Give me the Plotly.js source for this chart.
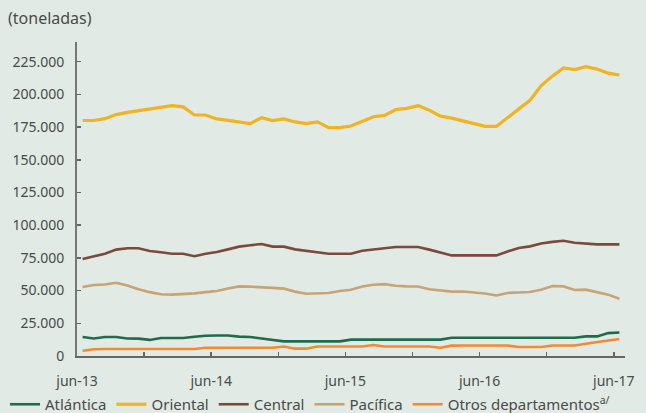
<!DOCTYPE html>
<html>
<head>
<meta charset="utf-8">
<script src="https://cdn.plot.ly/plotly-3.0.1.min.js"></script>
<style>html,body{margin:0;padding:0;background:#e1eae5;}#chart{width:646px;height:413px;}</style>
</head>
<body>
<div id="chart"></div>
<script>
// Monthly months: jun-13 ... jun-17 (49 months)
const months = ["jun-13","jul-13","ago-13","sep-13","oct-13","nov-13","dic-13","ene-14","feb-14","mar-14","abr-14","may-14",
"jun-14","jul-14","ago-14","sep-14","oct-14","nov-14","dic-14","ene-15","feb-15","mar-15","abr-15","may-15",
"jun-15","jul-15","ago-15","sep-15","oct-15","nov-15","dic-15","ene-16","feb-16","mar-16","abr-16","may-16",
"jun-16","jul-16","ago-16","sep-16","oct-16","nov-16","dic-16","ene-17","feb-17","mar-17","abr-17","may-17","jun-17"];

const atlantica = [14500,13400,14500,14500,13400,13300,12300,13800,13800,13800,14700,15500,
15700,15700,14800,14500,13400,12200,11200,11200,11200,11200,11200,11200,
12500,12500,12500,12500,12500,12500,12500,12500,12500,14000,14000,14000,
14000,14000,14000,14000,14000,14000,14000,14000,14000,15000,15000,17500,18000];

const oriental = [180000,180000,181400,184500,186200,187500,189300,190400,191400,190400,184200,184200,
181200,180100,178700,177600,182200,179900,181200,178900,177600,178900,174600,174600,
175800,179100,182900,183900,188300,189300,191400,187900,183300,181800,179600,177600,
175500,175500,182200,188500,195400,206600,213900,220200,218900,221200,219300,216200,214800];

const central = [74200,76100,78200,81300,82300,82300,80300,79300,78200,78200,76300,78200,
79500,81500,83600,84700,85600,83600,83600,81500,80500,79200,78200,78200,
78200,80500,81400,82200,83300,83300,83300,81300,79000,76900,76900,76900,
76900,76900,79900,82500,83800,86000,87200,88100,86600,85900,85300,85300,85300];

const pacifica = [52700,54300,54700,56000,53900,51000,48800,47200,46900,47200,47900,48800,
49700,51600,53200,53000,52700,52100,51500,49200,47600,47600,48100,49700,
50700,53100,54500,54900,53700,53200,53100,51000,50300,49200,49300,48800,
47800,46300,48200,48500,48900,50700,53500,53200,50500,50700,48800,46900,43800];

const otros = [4000,5200,5350,5350,5350,5350,5350,5350,5350,5350,5350,6300,
6350,6350,6350,6350,6350,6350,7300,5600,5600,7300,7300,7300,
7300,7300,8400,7300,7300,7300,7300,7300,6300,7900,8000,8000,
8000,8000,8000,6900,6900,6900,8000,8000,8000,9400,10800,11800,13000];

const xLabels = ["jun-13","","jun-14","","jun-15","","jun-16","","jun-17"];
const yTicks = [0,25000,50000,75000,100000,125000,150000,175000,200000,225000];

const idx = months.map((m,i)=>i);
const series = [
  {name:"Atlántica", y:atlantica, color:"#1f6b4c", w:2.6},
  {name:"Oriental", y:oriental, color:"#f0b322", w:3.2},
  {name:"Central", y:central, color:"#7b4a3b", w:2.6},
  {name:"Pacífica", y:pacifica, color:"#c8a374", w:2.6},
  {name:"Otros departamentos<sup>a/</sup>", y:otros, color:"#f28b30", w:2.6}
];
const traces = series.map(s=>({
  x: idx, y: s.y, name: s.name, type:"scatter", mode:"lines",
  line:{color:s.color, width:s.w}, text: months, hoverinfo:"text+y"
}));

const tickvals = xLabels.map((t,i)=>i*6-0.5);

const layout = {
  width:646, height:413,
  paper_bgcolor:"#e1eae5", plot_bgcolor:"#e1eae5",
  separators:",.",
  font:{family:"Noto Sans, sans-serif", size:14, color:"#4a4a4a"},
  margin:{l:77, r:21, t:42, b:57, pad:0, autoexpand:false},
  title:{text:"(toneladas)", x:8/646, xref:"container", xanchor:"left", y:1-18/413, yref:"container", yanchor:"middle", font:{size:16, color:"#4a4a4a"}},
  xaxis:{range:[-0.5,48.5], tickmode:"array", tickvals:tickvals, ticktext:xLabels,
    ticks:"inside", ticklen:4, tickwidth:1.5, tickcolor:"#666", showline:true, linecolor:"#666", linewidth:1.5,
    showgrid:false, zeroline:false, ticklabelshift:5.6, ticklabelstandoff:12, tickfont:{size:14, color:"#4a4a4a"}},
  yaxis:{range:[0,240000], tickmode:"array", tickvals:yTicks, tickformat:",d",
    ticks:"inside", ticklen:4, tickwidth:1.5, tickcolor:"#666", showline:true, linecolor:"#777", linewidth:2,
    showgrid:false, zeroline:false, ticklabelstandoff:8, tickfont:{size:14, color:"#4a4a4a"}},
  showlegend:true,
  legend:{orientation:"h", x:(5-77)/548, y:(356-421)/314, xanchor:"left", yanchor:"bottom",
    font:{size:15, color:"#4a4a4a"}, bgcolor:"rgba(0,0,0,0)", tracegroupgap:0, itemwidth:30}
};
Plotly.newPlot("chart", traces, layout, {displayModeBar:false, staticPlot:true});
</script>
</body>
</html>
